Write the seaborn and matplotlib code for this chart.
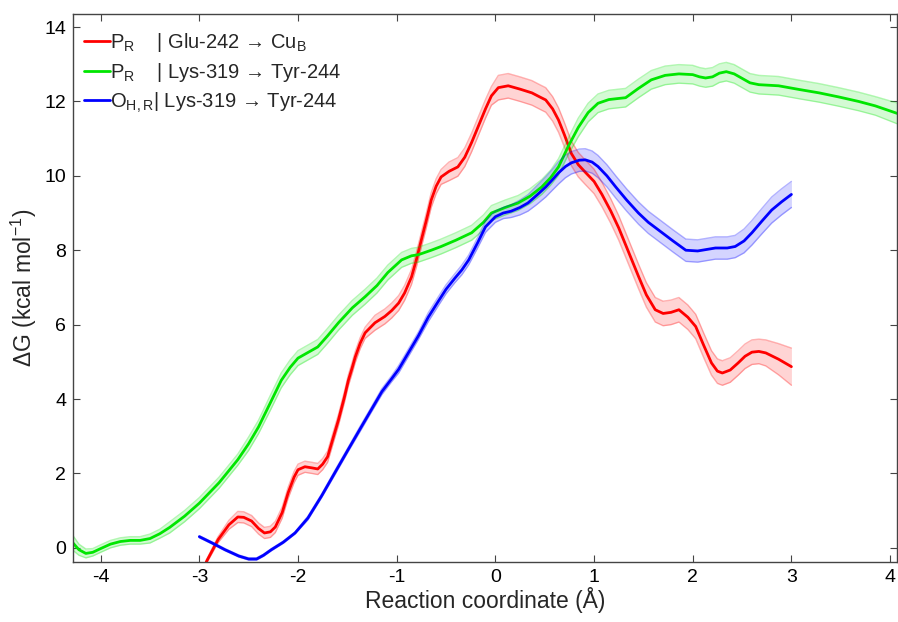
import numpy as np
import pandas as pd
import matplotlib
matplotlib.use('Agg')
import matplotlib.pyplot as plt
import seaborn as sns

# values
x_glu = [-2.93, -2.81, -2.7, -2.61, -2.55, -2.47, -2.4, -2.34, -2.28, -2.23,
         -2.16, -2.1, -2.04, -2.0, -1.93, -1.86, -1.8, -1.75, -1.7, -1.65,
         -1.59, -1.53, -1.49, -1.45, -1.42, -1.37, -1.32, -1.22, -1.12, -1.05,
         -0.98, -0.92, -0.85, -0.8, -0.75, -0.7, -0.65, -0.6, -0.55, -0.47,
         -0.38, -0.31, -0.24, -0.17, -0.10, -0.04, 0.03, 0.13, 0.25, 0.37,
         0.45, 0.51, 0.58, 0.64, 0.7, 0.77, 0.84, 0.91, 1.0, 1.08,
         1.17, 1.25, 1.35, 1.45, 1.53, 1.62, 1.7, 1.78, 1.86, 1.95,
         2.03, 2.11, 2.19, 2.25, 2.3, 2.38, 2.46, 2.53, 2.6, 2.67,
         2.74, 2.87, 3.0]
g_glu = [-0.38, 0.22, 0.62, 0.83, 0.82, 0.72, 0.52, 0.40, 0.43, 0.56,
         0.95, 1.48, 1.9, 2.1, 2.18, 2.15, 2.12, 2.25, 2.45, 2.9,
         3.44, 4.05, 4.5, 4.85, 5.13, 5.5, 5.78, 6.05, 6.22, 6.38,
         6.58, 6.85, 7.28, 7.75, 8.28, 8.8, 9.35, 9.72, 9.97, 10.12,
         10.24, 10.5, 10.9, 11.35, 11.8, 12.15, 12.37, 12.42, 12.33, 12.23,
         12.12, 12.04, 11.8, 11.5, 11.1, 10.6, 10.3, 10.1, 9.85, 9.5,
         9.05, 8.6, 7.95, 7.3, 6.8, 6.4, 6.3, 6.33, 6.4, 6.2,
         5.95, 5.45, 4.97, 4.75, 4.7, 4.78, 4.97, 5.15, 5.26, 5.28,
         5.24, 5.07, 4.87]
e_glu = [0.05, 0.08, 0.12, 0.15, 0.15, 0.15, 0.15, 0.15, 0.15, 0.15,
         0.15, 0.15, 0.15, 0.15, 0.15, 0.15, 0.15, 0.15, 0.15, 0.15,
         0.15, 0.15, 0.15, 0.15, 0.15, 0.15, 0.15, 0.2, 0.2, 0.2,
         0.2, 0.2, 0.2, 0.2, 0.2, 0.2, 0.2, 0.2, 0.2, 0.25,
         0.25, 0.25, 0.25, 0.25, 0.25, 0.25, 0.33, 0.33, 0.33, 0.33,
         0.33, 0.33, 0.33, 0.33, 0.33, 0.33, 0.33, 0.33, 0.33, 0.33,
         0.33, 0.33, 0.33, 0.33, 0.33, 0.33, 0.33, 0.33, 0.33, 0.33,
         0.33, 0.33, 0.33, 0.33, 0.33, 0.33, 0.33, 0.33, 0.33, 0.33,
         0.35, 0.42, 0.5]

x_lys = [-4.28, -4.22, -4.15, -4.08, -4.0, -3.9, -3.8, -3.7, -3.6, -3.5,
         -3.4, -3.3, -3.15, -3.0, -2.8, -2.61, -2.5, -2.4, -2.28, -2.17,
         -2.08, -2.0, -1.9, -1.8, -1.7, -1.59, -1.45, -1.32, -1.2, -1.09,
         -0.95, -0.85, -0.78, -0.65, -0.55, -0.4, -0.24, -0.12, -0.04, 0.1,
         0.23, 0.35, 0.47, 0.56, 0.64, 0.74, 0.84, 0.94, 1.04, 1.15,
         1.25, 1.32, 1.45, 1.58, 1.72, 1.86, 2.0, 2.07, 2.13, 2.2,
         2.27, 2.34, 2.42, 2.5, 2.58, 2.67, 2.87, 3.08, 3.28, 3.48,
         3.68, 3.85, 4.07]
g_lys = [0.13, -0.05, -0.15, -0.12, -0.02, 0.1, 0.17, 0.2, 0.2, 0.25,
         0.38, 0.55, 0.85, 1.2, 1.75, 2.37, 2.8, 3.25, 3.9, 4.5,
         4.85, 5.1, 5.25, 5.4, 5.7, 6.05, 6.45, 6.75, 7.05, 7.4,
         7.74, 7.85, 7.88, 8.0, 8.1, 8.27, 8.47, 8.75, 9.0, 9.15,
         9.27, 9.45, 9.7, 9.95, 10.24, 10.8, 11.3, 11.7, 11.95, 12.05,
         12.08, 12.1, 12.35, 12.58, 12.7, 12.74, 12.72, 12.66, 12.63, 12.66,
         12.76, 12.8, 12.74, 12.62, 12.5, 12.45, 12.42, 12.32, 12.23, 12.12,
         12.0, 11.88, 11.68]
e_lys = [0.2, 0.15, 0.12, 0.1, 0.1, 0.1, 0.1, 0.1, 0.1, 0.12,
         0.12, 0.15, 0.15, 0.15, 0.15, 0.15, 0.18, 0.18, 0.2, 0.2,
         0.2, 0.2, 0.2, 0.2, 0.2, 0.2, 0.2, 0.2, 0.2, 0.2,
         0.2, 0.2, 0.2, 0.2, 0.2, 0.2, 0.2, 0.2, 0.2, 0.2,
         0.2, 0.2, 0.2, 0.2, 0.22, 0.22, 0.25, 0.25, 0.25, 0.25,
         0.25, 0.25, 0.25, 0.25, 0.25, 0.25, 0.25, 0.25, 0.25, 0.25,
         0.25, 0.25, 0.25, 0.25, 0.25, 0.25, 0.25, 0.25, 0.25, 0.25,
         0.25, 0.25, 0.28]

x_oh = [-3.0, -2.87, -2.74, -2.6, -2.5, -2.42, -2.35, -2.27, -2.15, -2.03,
        -1.9, -1.76, -1.62, -1.49, -1.37, -1.26, -1.15, -1.05, -0.98, -0.88,
        -0.78, -0.68, -0.58, -0.5, -0.41, -0.34, -0.27, -0.18, -0.1, 0.0,
        0.08, 0.16, 0.25, 0.33, 0.42, 0.51, 0.58, 0.64, 0.71, 0.77,
        0.85, 0.91, 0.98, 1.04, 1.13, 1.22, 1.33, 1.45, 1.55, 1.65,
        1.8, 1.93, 2.05, 2.23, 2.35, 2.43, 2.52, 2.6, 2.7, 2.8,
        2.9, 3.0]
g_oh = [0.3, 0.13, -0.05, -0.22, -0.3, -0.3, -0.2, -0.05, 0.15, 0.4,
        0.8, 1.4, 2.05, 2.65, 3.2, 3.7, 4.2, 4.55, 4.8, 5.25,
        5.7, 6.2, 6.62, 6.95, 7.25, 7.47, 7.74, 8.2, 8.63, 8.9,
        9.0, 9.05, 9.15, 9.27, 9.48, 9.7, 9.9, 10.08, 10.25, 10.35,
        10.42, 10.43, 10.37, 10.25, 10.0, 9.7, 9.35, 9.0, 8.75, 8.55,
        8.25, 8.0, 7.98, 8.06, 8.06, 8.1, 8.25, 8.47, 8.78, 9.08,
        9.3, 9.5]
e_oh = [0.03, 0.03, 0.03, 0.03, 0.03, 0.03, 0.03, 0.03, 0.03, 0.03,
        0.05, 0.05, 0.06, 0.06, 0.07, 0.07, 0.08, 0.08, 0.1, 0.1,
        0.1, 0.12, 0.12, 0.12, 0.12, 0.13, 0.13, 0.14, 0.15, 0.15,
        0.15, 0.17, 0.2, 0.22, 0.25, 0.27, 0.28, 0.3, 0.3, 0.3,
        0.3, 0.3, 0.3, 0.3, 0.3, 0.3, 0.3, 0.3, 0.3, 0.3,
        0.3, 0.3, 0.3, 0.3, 0.3, 0.3, 0.32, 0.33, 0.34, 0.35,
        0.35, 0.35]

labels = [r'P$_{\mathrm{R}}$    | Glu-242 → Cu$_{\mathrm{B}}$',
          r'P$_{\mathrm{R}}$    | Lys-319 → Tyr-244',
          r'O$_{\mathrm{H,R}}$| Lys-319 → Tyr-244']
colors = ['#ff0000', '#00e600', '#0000ff']

sns.set_style('ticks')
plt.rcParams['font.family'] = ['Liberation Sans', 'DejaVu Sans']
plt.rcParams['mathtext.fontset'] = 'custom'
plt.rcParams['mathtext.rm'] = 'Liberation Sans'
plt.rcParams['mathtext.it'] = 'Liberation Sans:italic'
plt.rcParams['axes.unicode_minus'] = False

fig = plt.figure(figsize=(8.98, 6.22), dpi=100)
ax = fig.add_axes([0.0813, 0.0965, 0.9176, 0.881])

series = [(x_glu, g_glu, e_glu), (x_lys, g_lys, e_lys), (x_oh, g_oh, e_oh)]
for (xs, ys, es), lab, c in zip(series, labels, colors):
    xs = np.array(xs)
    ys = np.array(ys)
    es = np.array(es)
    ax.fill_between(xs, ys - es, ys + es, color=c, alpha=0.17, lw=0)
    ax.plot(xs, ys - es, color=c, alpha=0.3, lw=1)
    ax.plot(xs, ys + es, color=c, alpha=0.3, lw=1)
    df = pd.DataFrame({'x': xs, 'y': ys})
    sns.lineplot(data=df, x='x', y='y', color=c, lw=2, label=lab, ax=ax, sort=False)

ax.set_xlim(-4.28, 4.07)
ax.set_ylim(-0.38, 14.35)
ax.set_xticks(range(-4, 5))
ax.set_yticks(range(0, 15, 2))
ax.tick_params(direction='in', top=True, right=True, labelsize=14, length=5,
               color='#444444', labelcolor='black', pad=5)
for s in ax.spines.values():
    s.set_color('#444444')
    s.set_linewidth(1)
ax.set_xlabel('Reaction coordinate (Å)', fontsize=16.5, labelpad=1)
ax.set_ylabel(r'ΔG (kcal mol$^{-1}$)', fontsize=16.5, labelpad=4)

ax.legend(loc='upper left', bbox_to_anchor=(0.0, 0.99), frameon=False, fontsize=14.5,
          handlelength=1.3, handletextpad=0.0, labelspacing=0.35, borderaxespad=0.25,
          borderpad=0.3)

fig.savefig('out.png', dpi=100)
